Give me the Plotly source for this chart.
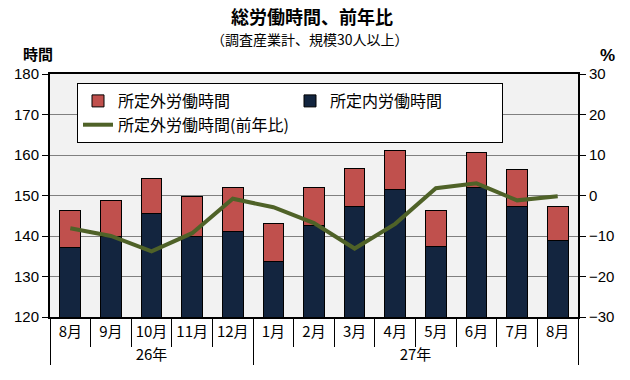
import plotly.graph_objects as go

years = ["26年"] * 5 + ["27年"] * 8
months = ["8月", "9月", "10月", "11月", "12月", "1月", "2月", "3月", "4月", "5月", "6月", "7月", "8月\u200b"]
total_hours = [146.2, 148.7, 154.1, 149.7, 151.9, 143.0, 151.9, 156.6, 161.0, 146.4, 160.7, 156.3, 147.4]
scheduled_hours = [137.1, 139.8, 145.5, 140.0, 141.0, 133.6, 142.5, 147.2, 151.4, 137.3, 151.9, 147.4, 138.9]
overtime_hours = [round(t - s, 1) for t, s in zip(total_hours, scheduled_hours)]
overtime_yoy = [-8.1, -10.0, -13.8, -9.3, -0.8, -2.9, -6.8, -13.1, -7.0, 1.8, 3.0, -1.2, -0.2]

JP = "Noto Sans CJK JP"
NUM = "Liberation Sans"

x = [years, months]

fig = go.Figure()
fig.add_trace(go.Bar(
    x=x, y=scheduled_hours, name="所定内労働時間",
    marker=dict(color="#13253f", line=dict(color="black", width=1)),
    legendrank=2,
))
fig.add_trace(go.Bar(
    x=x, y=overtime_hours, name="所定外労働時間",
    marker=dict(color="#c0504d", line=dict(color="black", width=1)),
    legendrank=1,
))
fig.add_trace(go.Scatter(
    x=x, y=overtime_yoy, name="所定外労働時間(前年比)", yaxis="y2",
    mode="lines", line=dict(color="#4f6228", width=4),
    legendrank=3,
))

L, R, T, B = 50, 52, 74, 63
pw, ph = 630 - L - R, 380 - T - B


def px(xp, yp):
    return dict(x=(xp - L) / pw, y=(380 - B - yp) / ph, xref="paper", yref="paper",
                xanchor="center", yanchor="middle", showarrow=False)


fig.update_layout(
    width=630, height=380,
    margin=dict(l=L, r=R, t=T, b=B, autoexpand=False),
    paper_bgcolor="white", plot_bgcolor="#f2f2f2",
    barmode="stack", bargap=0.49,
    showlegend=True,
    legend=dict(
        orientation="h", x=(77 - L) / pw, y=(380 - B - 83) / ph, xanchor="left", yanchor="top",
        bgcolor="white", bordercolor="black", borderwidth=1,
        font=dict(family=JP, size=16, color="black"),
        entrywidth=167, entrywidthmode="pixels", traceorder="normal",
        tracegroupgap=0,
    ),
    xaxis=dict(
        type="multicategory", showline=True, linecolor="black", linewidth=2, mirror=True,
        ticks="outside", tickson="boundaries", ticklen=28, tickcolor="black", tickwidth=1,
        showdividers=True, dividercolor="black", dividerwidth=1,
        tickfont=dict(family=JP, size=15, color="black"), tickangle=0, automargin=False,
        showgrid=False,
    ),
    yaxis=dict(
        range=[120, 180], dtick=10, showline=True, linecolor="black", linewidth=2,
        ticks="outside", ticklen=6, tickcolor="black", tickwidth=1,
        gridcolor="#808080", gridwidth=1, automargin=False,
        tickfont=dict(family=NUM, size=15, color="black"),
        zeroline=False,
    ),
    yaxis2=dict(
        range=[-30, 30], dtick=10, overlaying="y", side="right",
        showline=True, linecolor="black", linewidth=2,
        ticks="outside", ticklen=6, tickcolor="black", tickwidth=1,
        showgrid=False, zeroline=False, automargin=False,
        tickfont=dict(family=NUM, size=15, color="black"),
    ),
    annotations=[
        dict(text="<b>総労働時間、前年比</b>", font=dict(family=JP, size=18, color="black"), **px(312, 16)),
        dict(text="（調査産業計、規模30人以上）", font=dict(family=JP, size=14, color="black"), **px(310, 39)),
        dict(text="<b>時間</b>", font=dict(family=JP, size=15, color="black"), **px(38, 54)),
        dict(text="<b>%</b>", font=dict(family=NUM, size=17, color="black"), **px(607, 56)),
    ],
)

fig.write_html("out.html", config={"displayModeBar": False},
               post_script="document.body.style.margin='0';document.body.style.padding='0';")
